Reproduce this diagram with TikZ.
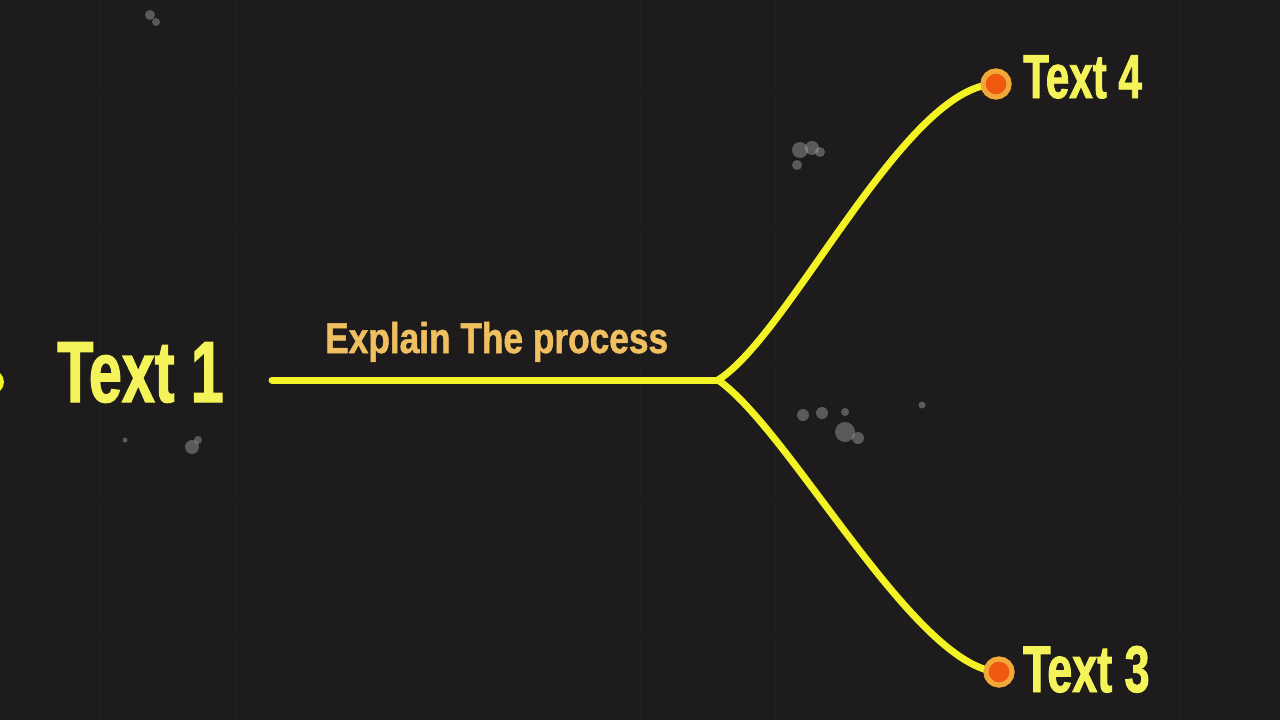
\documentclass[tikz,border=0pt]{standalone}
\usepackage{fontspec}
\newfontfamily\impA{Liberation Sans}[FakeStretch=0.68,FakeBold=1.4]
\newfontfamily\impB{Liberation Sans}[FakeStretch=0.82,FakeBold=1.2]
\definecolor{bg}{HTML}{1D1B1B}
\definecolor{gridc}{HTML}{212020}
\definecolor{lineY}{HTML}{F2F224}
\definecolor{txtY}{HTML}{F4F35A}
\definecolor{txtO}{HTML}{F0C060}
\definecolor{dotO}{HTML}{F05A10}
\definecolor{ringO}{HTML}{F0A838}
\definecolor{dust}{HTML}{B8B8B8}
\tikzset{
  bigtxt/.style={anchor=base west, inner sep=0pt, text=txtY, font=\impA\bfseries},
  subtxt/.style={anchor=base west, inner sep=0pt, text=txtO, font=\impB\bfseries\fontsize{43}{43}\selectfont},
  enddot/.style={circle, fill=dotO, draw=ringO, line width=5pt, minimum size=26pt, inner sep=0pt},
  wire/.style={line width=7pt, lineY, line cap=round},
  speck/.style={fill=dust, opacity=0.4},
}
\begin{document}
\begin{tikzpicture}[x=1pt,y=-1pt]
\fill[bg] (0,0) rectangle (1280,720);
\useasboundingbox (0,0) rectangle (1280,720);
\begin{scope}
\clip (0,0) rectangle (1280,720);
% faint grid
\foreach \gx in {100,235,370,505,640,775,910,1045,1180}
  \draw[gridc, line width=1pt] (\gx,0) -- (\gx,720);
\foreach \gy in {95,230,365,500,635}
  \draw[gridc, line width=1pt] (0,\gy) -- (1280,\gy);
% dust specks
\fill[speck] (150,15) circle (5);
\fill[speck] (156,22) circle (4);
\fill[speck] (800,150) circle (8);
\fill[speck] (812,148) circle (7);
\fill[speck] (797,165) circle (5);
\fill[speck] (820,152) circle (5);
\fill[speck] (803,415) circle (6);
\fill[speck] (822,413) circle (6);
\fill[speck] (845,432) circle (10);
\fill[speck] (858,438) circle (6);
\fill[speck] (845,412) circle (4);
\fill[speck] (922,405) circle (3.5);
\fill[speck] (192,447) circle (7);
\fill[speck] (198,440) circle (4);
\fill[speck] (125,440) circle (2.5);
% partial dot at left edge
\fill[lineY] (-8,382) circle (12);
\end{scope}

% nodes
\node[bigtxt, font=\impA\bfseries\fontsize{87}{87}\selectfont] (t1) at (57,402) {Text 1};
\node[subtxt] (ex) at (325,353) {Explain The process};
\node[enddot] (d4) at (996,84) {};
\node[enddot] (d3) at (999,672) {};
\node[bigtxt, font=\impA\bfseries\fontsize{62}{62}\selectfont] (t4) at (1023,98) {Text 4};
\node[bigtxt, font=\impA\bfseries\fontsize{66}{66}\selectfont] (t3) at (1023,692) {Text 3};
\coordinate (s) at (272,380);
\coordinate (j) at (718,380);

% connectors
\draw[wire] (s) -- (j);
\draw[wire] (j) .. controls (790,335) and (905,85) .. (d4.center);
\draw[wire] (j) .. controls (790,430) and (915,668) .. (d3.center);
% dots on top
\node[enddot] at (d4) {};
\node[enddot] at (d3) {};
\end{tikzpicture}
\end{document}
